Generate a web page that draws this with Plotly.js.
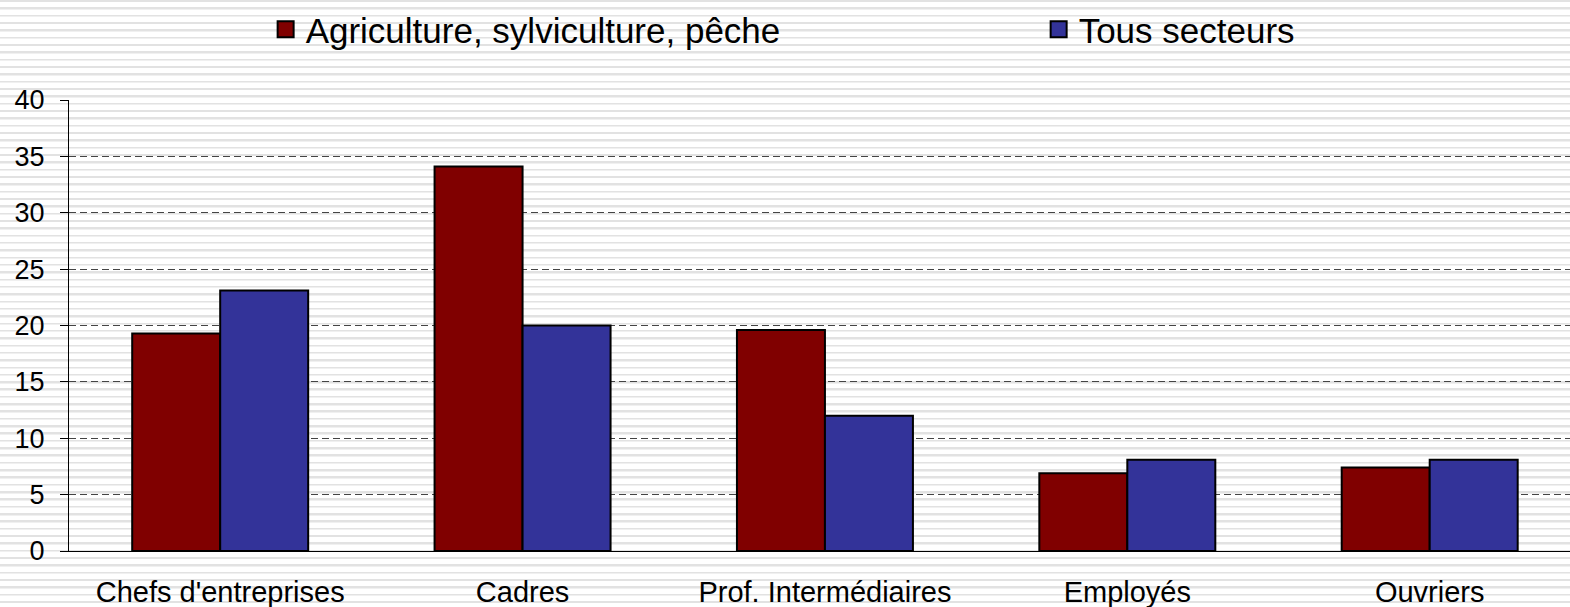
<!DOCTYPE html>
<html>
<head>
<meta charset="utf-8">
<script src="https://cdn.plot.ly/plotly-3.0.1.min.js"></script>
<style>
  html, body { margin: 0; padding: 0; }
  body {
    width: 1570px; height: 607px; overflow: hidden;
    background: repeating-linear-gradient(to bottom, #e2e2e2 0px, #e2e2e2 1.6px, #f0f0f0 1.6px, #f0f0f0 2.4px, #ffffff 2.4px, #ffffff 7.33px);
  }
  #chart { width: 1570px; height: 607px; }
</style>
</head>
<body>
<div id="chart"></div>
<script>
const categories = ["Chefs d'entreprises", "Cadres", "Prof. Intermédiaires", "Employés", "Ouvriers"];
const seriesNames = ["Agriculture, sylviculture, pêche", "Tous secteurs"];
const agriculture = [19.3, 34.1, 19.6, 6.9, 7.4];
const tousSecteurs = [23.1, 20.0, 12.0, 8.1, 8.1];
const colors = ["#800000", "#333399"];
const yTicks = [0, 5, 10, 15, 20, 25, 30, 35, 40];

const fontFamily = "'Liberation Sans', Arial, sans-serif";
const legendIds = ["legend", "legend2"];

const barTraces = [agriculture, tousSecteurs].map((vals, i) => ({
  type: "bar",
  name: seriesNames[i],
  x: categories,
  y: vals,
  marker: { color: colors[i], line: { color: "#000000", width: 2 } },
  showlegend: false,
  hoverinfo: "x+y"
}));

const legendTraces = seriesNames.map((name, i) => ({
  type: "scatter",
  mode: "markers",
  name: name,
  legend: legendIds[i],
  x: [null],
  y: [null],
  marker: { symbol: "square", size: 16, color: colors[i], line: { color: "#000000", width: 2 } },
  showlegend: true
}));

function legendStyle(xPos) {
  return {
    orientation: "h",
    x: xPos,
    xanchor: "left",
    y: 1.157,
    yanchor: "middle",
    font: { size: 35, family: fontFamily, color: "#000000" },
    bgcolor: "rgba(0,0,0,0)",
    itemsizing: "trace"
  };
}

const layout = {
  width: 1570,
  height: 607,
  margin: { l: 69, r: 0, t: 99, b: 56 },
  paper_bgcolor: "rgba(0,0,0,0)",
  plot_bgcolor: "rgba(0,0,0,0)",
  font: { family: fontFamily, color: "#000000" },
  barmode: "group",
  bargap: 0.418,
  bargroupgap: 0,
  showlegend: true,
  legend: legendStyle(0.131),
  legend2: legendStyle(0.646),
  xaxis: {
    type: "category",
    categoryorder: "array",
    categoryarray: categories,
    range: [-0.5, 4.464],
    showline: true,
    linecolor: "#000000",
    linewidth: 1,
    ticks: "",
    showgrid: false,
    zeroline: false,
    tickfont: { size: 29, family: fontFamily, color: "#000000" },
    ticklabelstandoff: 15,
    fixedrange: true
  },
  yaxis: {
    range: [0, 40],
    tickvals: yTicks,
    ticktext: yTicks.map(String),
    showline: true,
    linecolor: "#000000",
    linewidth: 1,
    ticks: "outside",
    ticklen: 8,
    tickcolor: "#000000",
    tickwidth: 1,
    showgrid: true,
    gridcolor: "#444444",
    gridwidth: 1,
    griddash: "7px,4px",
    zeroline: false,
    tickfont: { size: 27, family: fontFamily, color: "#000000" },
    ticklabelstandoff: 10,
    fixedrange: true
  }
};

Plotly.newPlot("chart", barTraces.concat(legendTraces), layout, { displayModeBar: false, staticPlot: true });
</script>
</body>
</html>
